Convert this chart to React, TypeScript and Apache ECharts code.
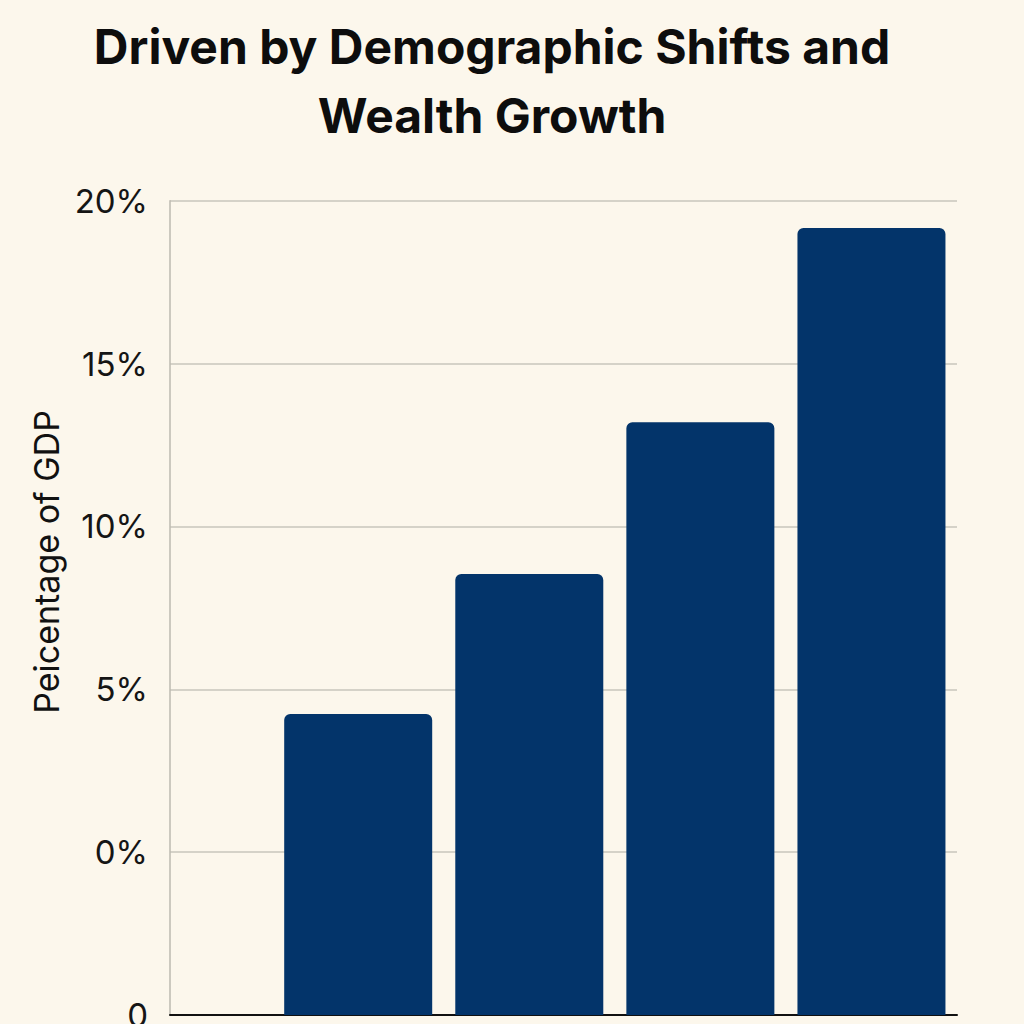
import React, { useEffect, useRef } from "react";
import * as echarts from "echarts";

const titleLines = ["Driven by Demographic Shifts and", "Wealth Growth"];
const yAxisTitle = "Peicentage of GDP";
const positions = [1, 2, 3, 4];
const shareOfGdp = [4.24, 8.54, 13.2, 19.16];
// The axis bottom is labelled "0" and sits one step below "0%"
const axisFloor = -5;
const tickLabels: Record<number, string> = { 0: "0", 5: "0%", 10: "5%", 15: "10%", 20: "15%", 25: "20%" };

export default function App() {
  const ref = useRef<HTMLDivElement>(null);
  useEffect(() => {
    if (!ref.current) return;
    const chart = echarts.init(ref.current, undefined, { renderer: "svg" });
    chart.setOption({
      animation: false,
      backgroundColor: "#FCF7EC",
      graphic: [
        {
          type: "text",
          x: 492,
          y: 12,
          style: {
            text: titleLines.join("\n"),
            font: "700 48px Inter",
            fill: "#0d0d0d",
            textAlign: "center",
            textVerticalAlign: "top",
            lineHeight: 69,
          },
        },
        {
          type: "text",
          x: 46,
          y: 562,
          rotation: Math.PI / 2,
          style: {
            text: yAxisTitle,
            font: "400 34px Inter",
            fill: "#111",
            textAlign: "center",
            textVerticalAlign: "middle",
          },
        },
      ],
      grid: { left: 170, right: 67, top: 200.7, bottom: 9, containLabel: false, outerBoundsMode: "none" },
      xAxis: {
        type: "value",
        min: -0.1,
        max: 4.5,
        axisLabel: { show: false },
        axisTick: { show: false },
        splitLine: { show: false },
        axisLine: { show: true, onZero: false, lineStyle: { color: "#111", width: 2 } },
      },
      yAxis: {
        type: "value",
        min: 0,
        max: 25,
        interval: 5,
        axisLine: { show: true, onZero: false, lineStyle: { color: "#bdbab0", width: 1.5 } },
        axisTick: { show: false },
        splitLine: { show: true, lineStyle: { color: "#c9c6bc", width: 1.5 } },
        axisLabel: {
          formatter: (v: number) => tickLabels[v] ?? "",
          fontFamily: "Inter",
          fontSize: 33,
          color: "#151515",
          margin: 22,
        },
      },
      series: [
        {
          type: "bar",
          barWidth: 148,
          data: positions.map((p, i) => [p, shareOfGdp[i] - axisFloor]),
          itemStyle: { color: "#03346A", borderRadius: [6, 6, 0, 0] },
        },
      ],
    });
    return () => chart.dispose();
  }, []);
  return <div ref={ref} style={{ position: "fixed", left: 0, top: 0, width: 1024, height: 1024 }} />;
}
